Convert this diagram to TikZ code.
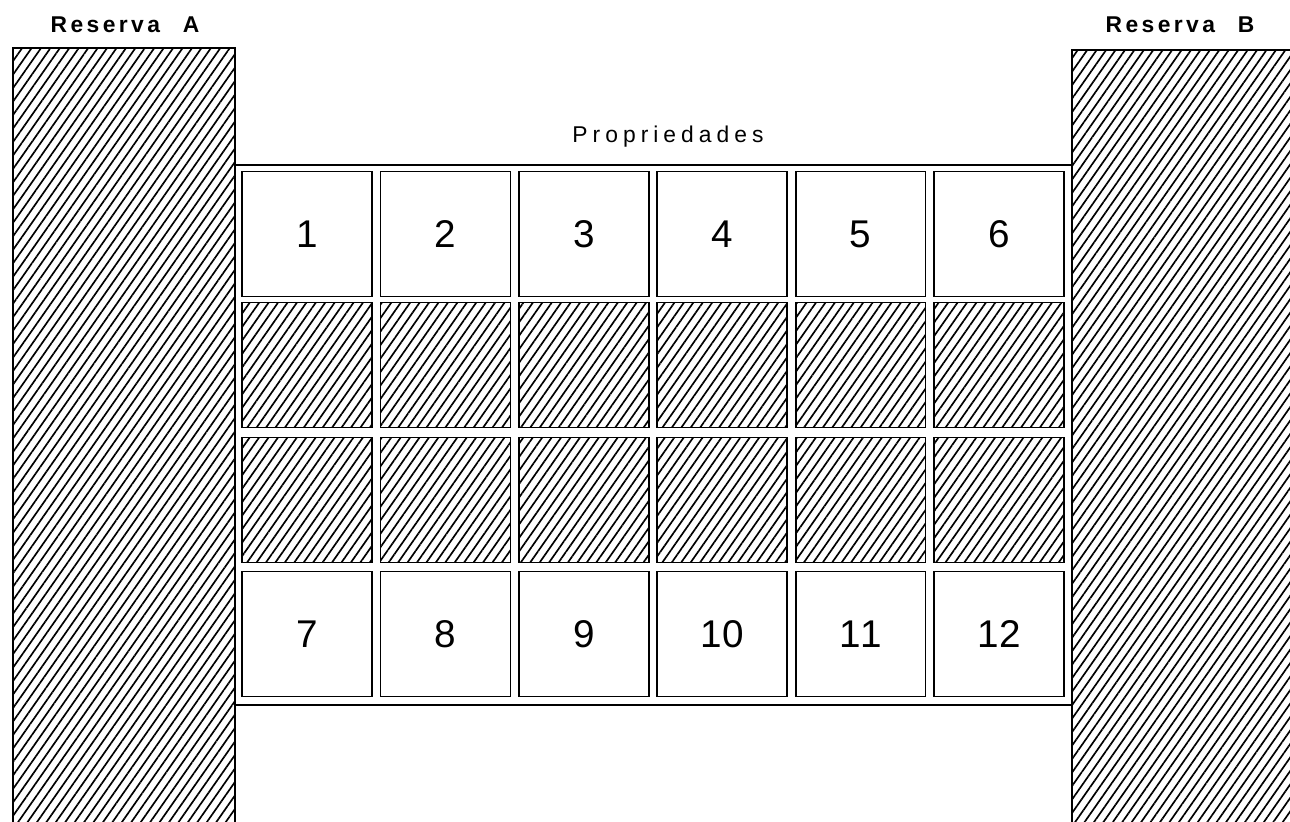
\documentclass[tikz,border=0pt]{standalone}
\usepackage{fontspec}
\setmainfont{Liberation Sans}
\newfontfamily\lettering[LetterSpace=15]{Liberation Sans}
\newfontfamily\spaced[LetterSpace=22]{Liberation Sans}
\newfontfamily\digits[Kerning=Off]{Liberation Sans}
\usetikzlibrary{patterns.meta}

\begin{document}
\begin{tikzpicture}[
  x=0.02cm, y=-0.02cm,
  hatch/.style={pattern={Lines[angle=55, distance=4.4pt, line width=0.95pt]}},
  lot/.style={draw, line width=1pt, minimum width=2.6cm, minimum height=2.5cm,
    inner sep=0pt, font=\digits\fontsize{22}{22}\selectfont},
  reserve/.style={draw, hatch, line width=1.2pt, inner sep=0pt, anchor=north west},
  frame/.style={line width=1.4pt},
  caption/.style={font=\lettering\bfseries\fontsize{13}{15}\selectfont, anchor=base},
  title/.style={font=\spaced\fontsize{13}{15}\selectfont, anchor=base}
]
  \useasboundingbox (0,0) rectangle (1290,821);
  \clip (0,0) rectangle (1290,821);

  % Reserves at both sides
  \node[reserve, minimum width=4.44cm, minimum height=15.7cm] (resA) at (12,47) {};
  \node[reserve, minimum width=4.6cm, minimum height=15.7cm] (resB) at (1071,49) {};
  \node[caption] (capA) at (125,33) {Reserva\hspace{1em}A};
  \node[caption] (capB) at (1180,33) {Reserva\hspace{1em}B};

  % Properties frame
  \coordinate (ftop) at (0,165);
  \coordinate (fbot) at (0,705);
  \draw[frame] (resA.east |- ftop) -- (resB.west |- ftop);
  \draw[frame] (resA.east |- fbot) -- (resB.west |- fbot);
  \node[title] (props) at (668,142) {Propriedades};

  % Lots
  \foreach \c [evaluate=\c as \n using {int(\c+6)}] in {1,...,6} {
    \node[lot] (lot\c) at ({307+138.4*(\c-1)},234) {\c};
    \node[lot, hatch] (upper\c) at ({307+138.4*(\c-1)},365) {};
    \node[lot, hatch] (lower\c) at ({307+138.4*(\c-1)},500) {};
    \node[lot] (lot\n) at ({307+138.4*(\c-1)},634) {\n};
  }

\end{tikzpicture}
\end{document}
